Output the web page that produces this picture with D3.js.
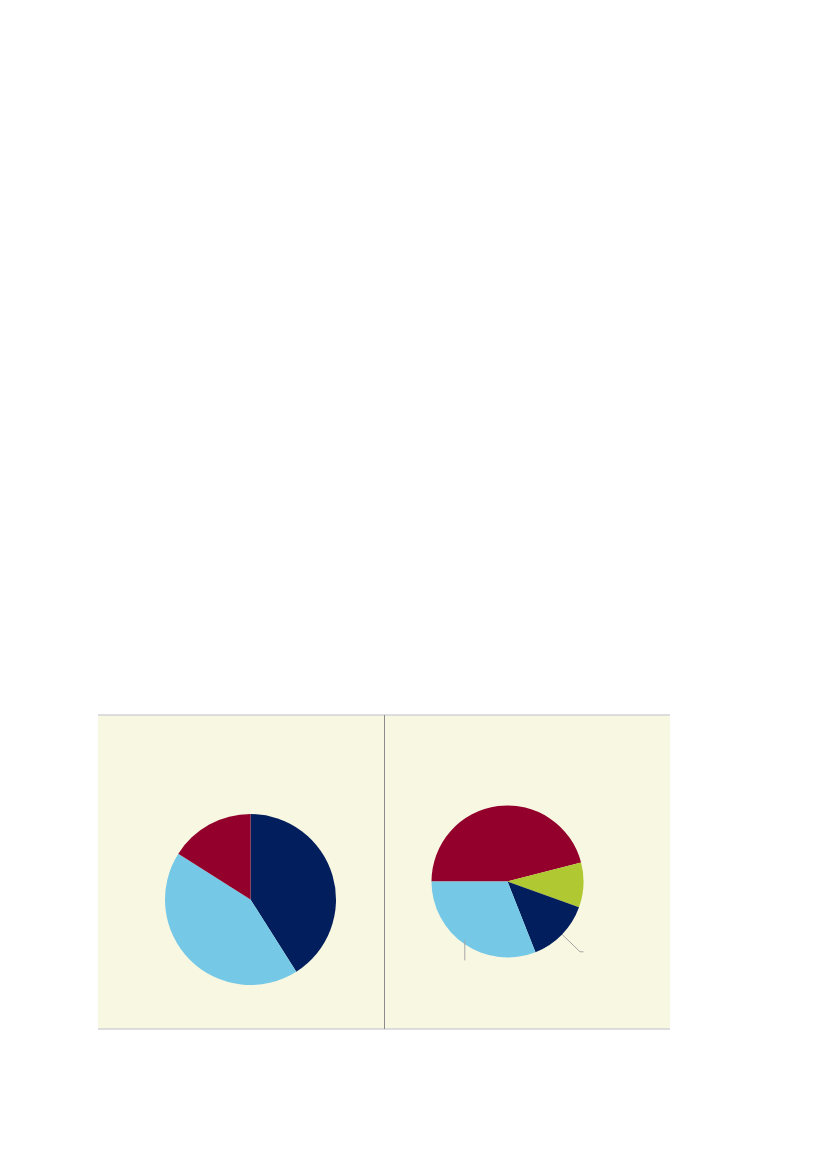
<!DOCTYPE html>
<html>
<head>
<meta charset="utf-8">
<script src="https://cdn.jsdelivr.net/npm/d3@7"></script>
<style>
  body { margin: 0; background: #fff; }
</style>
</head>
<body>
<div class="canvas"></div>
<script>
// data (shares, %)
const leftNames = ['Segment A', 'Segment B', 'Segment C'];
const leftValues = [41, 43, 16];
const leftColors = ['#031e5c', '#76c9e6', '#93002b'];

const rightNames = ['Segment C', 'Segment D', 'Segment A', 'Segment B'];
const rightValues = [46, 9.5, 13.5, 31];
const rightColors = ['#93002b', '#b0c832', '#031e5c', '#76c9e6'];

// slices on the right pie that carry a leader line
const leaderSlices = [3, 2];

const page = { width: 827, height: 1169 };
const panel = { x: 98, y: 715, width: 572, height: 314, split: 384.5 };

const svg = d3.select('.canvas')
    .append('svg')
    .attr('width', page.width)
    .attr('height', page.height);

// background panel
svg.append('rect')
    .attr('x', panel.x)
    .attr('y', panel.y)
    .attr('width', panel.width)
    .attr('height', panel.height)
    .attr('fill', '#f8f7e2');

svg.append('line')
    .attr('x1', panel.x).attr('x2', panel.x + panel.width)
    .attr('y1', panel.y).attr('y2', panel.y)
    .attr('stroke', '#d3d3d3').attr('stroke-width', 1.5);

svg.append('line')
    .attr('x1', panel.x).attr('x2', panel.x + panel.width)
    .attr('y1', panel.y + panel.height).attr('y2', panel.y + panel.height)
    .attr('stroke', '#d3d3d3').attr('stroke-width', 1.5);

svg.append('line')
    .attr('x1', panel.split).attr('x2', panel.split)
    .attr('y1', panel.y).attr('y2', panel.y + panel.height)
    .attr('stroke', '#8c8c8c').attr('stroke-width', 1);

// draws one pie, returns the arcs
const drawPie = (values, colors, cx, cy, radius, start) => {

    const pie = d3.pie()
        .sort(null)
        .startAngle(start)
        .endAngle(start + 2 * Math.PI)
        .value(d => d);

    const arcPath = d3.arc()
        .outerRadius(radius)
        .innerRadius(0);

    const graph = svg.append('g')
        .attr('transform', `translate(${cx}, ${cy})`);

    const arcs = pie(values);

    graph.selectAll('path')
        .data(arcs)
        .enter()
        .append('path')
            .attr('d', arcPath)
            .attr('fill', (d, i) => colors[i]);

    return { graph, arcs };
};

const left = drawPie(leftValues, leftColors, 250.5, 899.5, 85.5, 0);
const right = drawPie(rightValues, rightColors, 507.5, 881.5, 76, -Math.PI / 2);

// leader lines (labels not shown in the picture)
const rim = d3.arc().innerRadius(76).outerRadius(76);
const outer = d3.arc().innerRadius(101).outerRadius(101);

leaderSlices.forEach(idx => {
    const d = right.arcs[idx];
    const mid = { startAngle: (d.startAngle + d.endAngle) / 2, endAngle: (d.startAngle + d.endAngle) / 2 };
    const p0 = rim.centroid(mid);
    let pts;
    if (idx === 3) {
        pts = [[p0[0], p0[1] - 4], [p0[0], p0[1] + 16]];
    } else {
        const p1 = outer.centroid(mid);
        pts = [p0, p1, [p1[0] + 3.5, p1[1]]];
    }
    right.graph.append('path')
        .attr('d', d3.line()(pts))
        .attr('fill', 'none')
        .attr('stroke', '#a6a6a6')
        .attr('stroke-width', 1);
});
</script>
</body>
</html>
